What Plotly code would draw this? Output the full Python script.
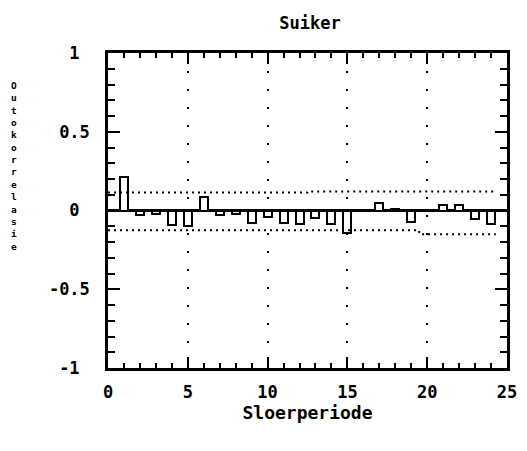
import plotly.graph_objects as go

# Data
lags = list(range(1, 25))
acf = [0.21, -0.03, -0.025, -0.09, -0.10, 0.085, -0.03, -0.02, -0.08, -0.04,
       -0.08, -0.085, -0.05, -0.085, -0.14, 0.0, 0.048, 0.01, -0.07, 0.0,
       0.035, 0.035, -0.055, -0.085]

upper_lag = [0, 12.5, 24.3]
upper_val = [0.115, 0.12, 0.12]
lower_lag = [0, 19.5, 24.3]
lower_val = [-0.125, -0.15, -0.15]

x_ticks = [0, 5, 10, 15, 20, 25]
y_ticks = [-1, -0.5, 0, 0.5, 1]
y_ticktext = ["-1\u00a0", "-0.5", "0\u00a0", "0.5", "1\u00a0"]

title_text = "Suiker"
x_title = "Sloerperiode"
y_title = "Outokorrelasie"

FONT = "DejaVu Sans Mono"
PLOT_W = 527 - 108 - 10
PLOT_H = 451 - 53 - 83

fig = go.Figure()

fig.add_trace(go.Scatter(x=upper_lag, y=upper_val, mode="lines",
                         line=dict(shape="hv", color="black", width=2, dash="2px,4px"),
                         hoverinfo="skip", showlegend=False))
fig.add_trace(go.Scatter(x=lower_lag, y=lower_val, mode="lines",
                         line=dict(shape="hv", color="black", width=2, dash="2px,4px"),
                         hoverinfo="skip", showlegend=False))
fig.add_trace(go.Bar(x=lags, y=acf, width=0.5,
                     marker=dict(color="white", line=dict(color="black", width=2)),
                     showlegend=False))

fig.update_layout(
    width=527, height=451,
    margin=dict(l=108, r=10, t=53, b=83),
    paper_bgcolor="white", plot_bgcolor="white",
    title=dict(text=title_text, x=310 / 527, xanchor="center", y=1 - 23 / 451,
               yanchor="middle", yref="container",
               font=dict(family=FONT, size=17, color="black", weight="bold")),
    bargap=0,
)

fig.update_xaxes(
    range=[0, 25], tickvals=x_ticks, showline=True, linecolor="black", linewidth=2.5,
    mirror="ticks", ticks="inside", ticklen=11, tickwidth=2, tickcolor="black",
    minor=dict(dtick=1, ticks="inside", ticklen=5, tickwidth=2, tickcolor="black", showgrid=False),
    showgrid=True, gridcolor="black", gridwidth=2, griddash="2px,16px",
    zeroline=False, ticklabelstandoff=7,
    tickfont=dict(family=FONT, size=17, color="black", weight="bold"),
    title=dict(text=x_title, standoff=3,
               font=dict(family=FONT, size=18, color="black", weight="bold")),
)
fig.update_yaxes(
    range=[-1, 1], tickvals=y_ticks, ticktext=y_ticktext, showline=True, linecolor="black",
    linewidth=2.5, mirror="ticks", ticks="inside", ticklen=12, tickwidth=2, tickcolor="black",
    minor=dict(dtick=0.1, ticks="inside", ticklen=7, tickwidth=2, tickcolor="black", showgrid=False),
    showgrid=False, zeroline=True, zerolinecolor="black", zerolinewidth=2.5,
    ticklabelstandoff=12,
    tickfont=dict(family=FONT, size=17, color="black", weight="bold"),
)

# Vertical stacked y-axis label (one upright letter per line)
fig.add_annotation(text="<br>".join(y_title), xref="paper", yref="paper",
                   x=(12 - 108) / PLOT_W, y=(368 - 166) / PLOT_H,
                   xanchor="center", yanchor="middle", showarrow=False, align="center",
                   font=dict(family=FONT, size=9.5, color="black", weight="bold"))

fig.write_html("out.html")
